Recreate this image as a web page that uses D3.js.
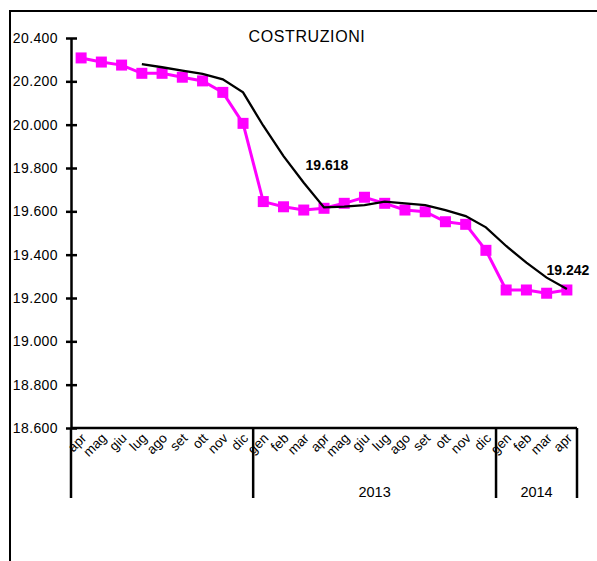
<!DOCTYPE html>
<html>
<head>
<meta charset="utf-8">
<script src="https://cdn.jsdelivr.net/npm/d3@7"></script>
<style>
  body { margin: 0; background: #fff; }
  svg { font-family: "Liberation Sans", Arial, sans-serif; }
</style>
</head>
<body>
<svg width="597" height="561"></svg>
<script>
// Mesi (apr 2012 - apr 2014)
const months = ['apr', 'mag', 'giu', 'lug', 'ago', 'set', 'ott', 'nov', 'dic',
  'gen', 'feb', 'mar', 'apr', 'mag', 'giu', 'lug', 'ago', 'set', 'ott', 'nov', 'dic',
  'gen', 'feb', 'mar', 'apr'];
const years = [
  { label: '', from: 0, to: 9 },
  { label: '2013', from: 9, to: 21 },
  { label: '2014', from: 21, to: 25 }
];
// serie destagionalizzata (magenta)
const serie = [20308, 20289, 20275, 20237, 20237, 20219, 20202, 20149, 20006,
  19645, 19621, 19606, 19614, 19637, 19665, 19637, 19606, 19598, 19552, 19540, 19420,
  19237, 19237, 19222, 19237];
// trend (nero), parte da lug 2012
const trend = [null, null, null, 20279, 20265, 20249, 20234, 20209, 20149,
  19995, 19855, 19732, 19618, 19622, 19629, 19645, 19637, 19629, 19606, 19578, 19526,
  19440, 19363, 19294, 19242];
const yTicks = [18600, 18800, 19000, 19200, 19400, 19600, 19800, 20000, 20200, 20400];
const labels = [{ i: 12, text: '19.618', dx: 3, dy: -37 }, { i: 24, text: '19.242', dx: 1, dy: -14 }];

const svg = d3.select('svg');
const mLeft = 71, mRight = 577, mTop = 38, mBottom = 428;

const x = d3.scaleBand().domain(d3.range(months.length)).range([mLeft, mRight]);
const y = d3.scaleLinear().domain([18600, 20400]).range([mBottom, mTop]);
const cx = (i) => x(i) + x.bandwidth() / 2;

// cornice
svg.append('path')
  .attr('d', 'M10,561 V11 H597')
  .attr('fill', 'none')
  .attr('stroke', '#000')
  .attr('stroke-width', 2);

// titolo
svg.append('text')
  .attr('x', 307).attr('y', 42)
  .attr('text-anchor', 'middle')
  .attr('font-size', 16)
  .attr('letter-spacing', 0.6)
  .text('COSTRUZIONI');

// asse y
const yAxis = svg.append('g')
  .attr('transform', 'translate(' + mLeft + ',0)')
  .call(d3.axisLeft(y).tickValues(yTicks).tickSize(0).tickPadding(13)
    .tickFormat((d) => (d / 1000).toFixed(3)));
yAxis.select('.domain').attr('stroke-width', 2.5);
yAxis.selectAll('.tick line').attr('x1', -5).attr('x2', 6).attr('stroke-width', 2.5);
yAxis.selectAll('.tick text').attr('font-size', 14).attr('fill', '#000')
  .attr('letter-spacing', 0.4)
  .attr('font-family', '"Liberation Sans", Arial, sans-serif');

// asse x
svg.append('line')
  .attr('x1', mLeft).attr('x2', mRight)
  .attr('y1', mBottom).attr('y2', mBottom)
  .attr('stroke', '#000').attr('stroke-width', 2.5);

// separatori anni
const bounds = [0, 9, 21, 25];
svg.selectAll('.sep')
  .data(bounds)
  .enter()
  .append('line')
  .attr('class', 'sep')
  .attr('x1', (d) => (d < months.length ? x(d) : mRight))
  .attr('x2', (d) => (d < months.length ? x(d) : mRight))
  .attr('y1', mBottom)
  .attr('y2', 498)
  .attr('stroke', '#000')
  .attr('stroke-width', 2.5);

// etichette mesi
svg.selectAll('.month')
  .data(months)
  .enter()
  .append('text')
  .attr('class', 'month')
  .attr('transform', (d, i) => 'translate(' + (cx(i) + 6) + ',' + (mBottom + 11) + ') rotate(-45)')
  .attr('text-anchor', 'end')
  .attr('font-size', 13.5)
  .text((d) => d);

// etichette anni
svg.selectAll('.year')
  .data(years.filter((d) => d.label))
  .enter()
  .append('text')
  .attr('class', 'year')
  .attr('x', (d) => (x(d.from) + (d.to < months.length ? x(d.to) : mRight)) / 2)
  .attr('y', 497)
  .attr('text-anchor', 'middle')
  .attr('font-size', 14.5)
  .text((d) => d.label);

const line = d3.line()
  .defined((d) => d != null)
  .x((d, i) => cx(i))
  .y((d) => y(d));

// serie
svg.append('path')
  .datum(serie)
  .attr('fill', 'none')
  .attr('stroke', '#ff00ff')
  .attr('stroke-width', 3)
  .attr('d', line);

svg.selectAll('.mk')
  .data(serie)
  .enter()
  .append('rect')
  .attr('class', 'mk')
  .attr('x', (d, i) => cx(i) - 5.5)
  .attr('y', (d) => y(d) - 5.5)
  .attr('width', 11)
  .attr('height', 11)
  .attr('fill', '#ff00ff');

// trend
svg.append('path')
  .datum(trend)
  .attr('fill', 'none')
  .attr('stroke', '#000')
  .attr('stroke-width', 2.3)
  .attr('d', line);

// etichette valori
svg.selectAll('.lab')
  .data(labels)
  .enter()
  .append('text')
  .attr('class', 'lab')
  .attr('x', (d) => cx(d.i) + d.dx)
  .attr('y', (d) => y(trend[d.i]) + d.dy)
  .attr('text-anchor', 'middle')
  .attr('font-size', 14)
  .attr('font-weight', 'bold')
  .text((d) => d.text);
</script>
</body>
</html>
